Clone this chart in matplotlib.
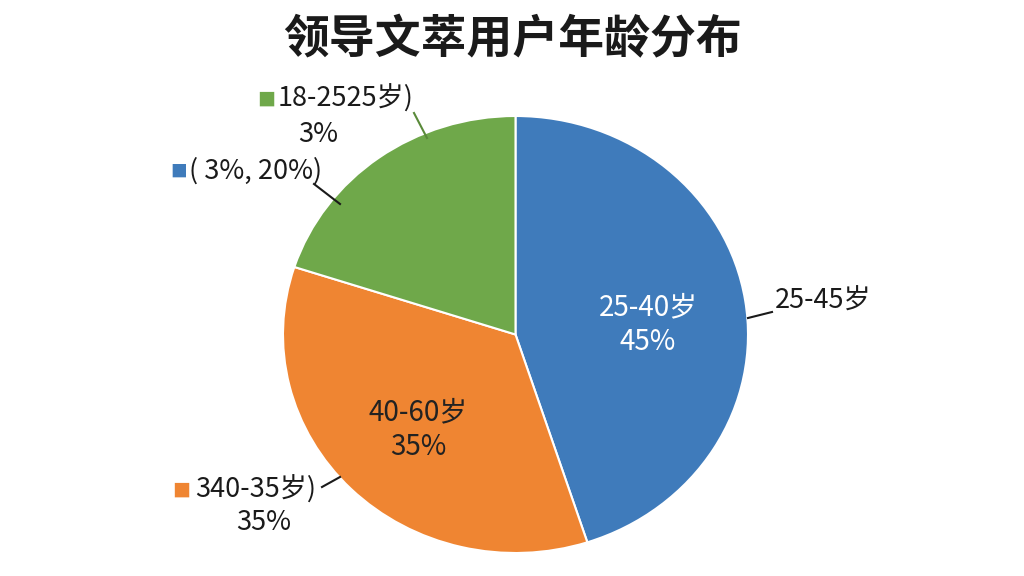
import matplotlib.pyplot as plt

plt.rcParams['font.family'] = ['Noto Sans CJK SC', 'DejaVu Sans']

# data
groups = ['25-40岁', '40-60岁', '18-25岁']
shares = [45, 35, 20]
colours = ['#3F7BBB', '#EF8532', '#6FA84A']
title = '领导文萃用户年龄分布'

fig = plt.figure(figsize=(10.24, 5.76), dpi=100)
fig.patch.set_facecolor('white')

# pie axes sized to the slightly squashed pie of the reference
pie_ax = fig.add_axes([283 / 1024, (576 - 553) / 576, 465 / 1024, 437 / 576])
pie_ax.pie(shares, colors=colours, startangle=90, counterclock=False,
           wedgeprops=dict(edgecolor='white', linewidth=1.5))
pie_ax.set_aspect('auto')
pie_ax.set_xlim(-1, 1)
pie_ax.set_ylim(-1, 1)
pie_ax.axis('off')

# overlay axes in pixel coords for labels and leader lines
ov = fig.add_axes([0, 0, 1, 1])
ov.set_xlim(0, 1024)
ov.set_ylim(576, 0)
ov.axis('off')
ov.patch.set_alpha(0)

ov.text(512, 40, title, ha='center', va='center', fontsize=33,
        fontweight='bold', color='#1a1a1a')

# inner labels
ov.text(648, 325, groups[0] + '\n' + str(shares[0]) + '%', ha='center',
        va='center', fontsize=20, color='white', linespacing=1.2)
ov.text(418, 430, groups[1] + '\n' + str(shares[1]) + '%', ha='center',
        va='center', fontsize=20, color='#222222', linespacing=1.2)

# outer labels (as garbled in the reference)
lab = dict(fontsize=19.5, color='#1a1a1a', va='center')
ov.text(257, 101, '■', color=colours[2], fontsize=13, va='center')
ov.text(278, 99, '18-2525岁)', **lab)
ov.text(318, 134, '3%', ha='center', **lab)
ov.plot([414, 427], [113, 138], color='#5a8a3a', lw=1.5)

ov.text(170, 172, '■', color=colours[0], fontsize=12, va='center')
ov.text(189, 171, '( 3%, 20%)', **lab)
ov.plot([314, 340], [184, 204], color='#1a1a1a', lw=1.5)

ov.text(775, 301, '25-45岁', **lab)
ov.plot([748, 772], [318, 312], color='#1a1a1a', lw=1.5)

ov.text(172, 492, '■', color=colours[1], fontsize=13, va='center')
ov.text(195, 490, '340-35岁)', **lab)
ov.text(264, 522, '35%', ha='center', **lab)
ov.plot([322, 340], [487, 477], color='#1a1a1a', lw=1.5)

fig.savefig('out.png', dpi=100, facecolor='white')
